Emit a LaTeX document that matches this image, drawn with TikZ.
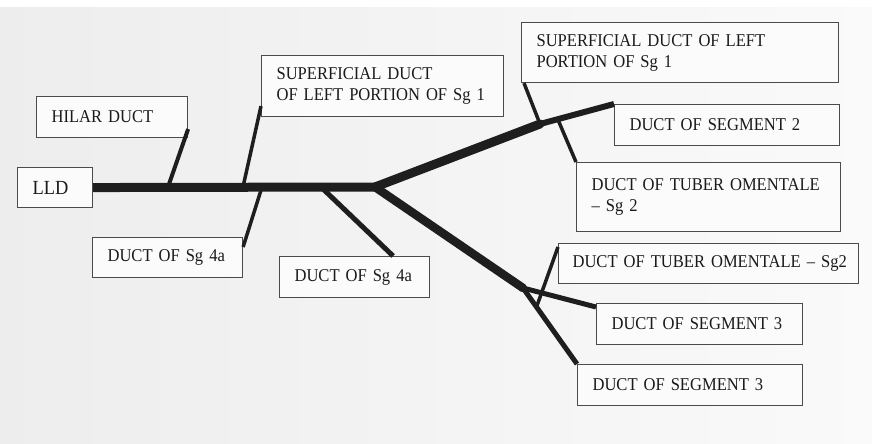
\documentclass[tikz,border=0pt]{standalone}
\usepackage{fontspec}
\setmainfont{Liberation Serif}[FakeStretch=0.92]
\usepackage{tikz}
\usetikzlibrary{calc}
\definecolor{ductink}{HTML}{1E1E1E}
\definecolor{boxtext}{HTML}{1A1A1A}

\begin{document}
\begin{tikzpicture}[x=1pt,y=-1pt,
	box/.style={draw=ductink!80, line width=1.1pt, fill=gray!3, text=boxtext,
		anchor=north west, align=left, inner xsep=15pt, inner ysep=0pt,
		font=\fontsize{18}{21}\selectfont},
	main/.style={draw=ductink, line width=9pt},
	side/.style={draw=ductink, line width=5pt},
	twig/.style={draw=ductink, line width=3.5pt}]
	\useasboundingbox (0,0) rectangle (872,444);
	\shade[left color=gray!14, right color=gray!4] (0,8) rectangle (872,444);
	% boxes
	\node[box, text width=45pt, minimum height=40pt, font=\fontsize{20}{22}\selectfont] (lld) at (17,167) {LLD};
	\node[box, text width=121pt, minimum height=41pt] (hilar) at (36,96) {HILAR DUCT};
	\node[box, text width=212pt, minimum height=61pt] (supmid) at (261,55) {SUPERFICIAL DUCT\\OF LEFT PORTION OF Sg 1};
	\node[box, text width=120pt, minimum height=40pt] (sgL) at (92,237) {DUCT OF Sg 4a};
	\node[box, text width=120pt, minimum height=41pt] (sgM) at (279,256) {DUCT OF Sg 4a};
	\node[box, text width=287pt, minimum height=60pt] (supR) at (521,22) {SUPERFICIAL DUCT OF LEFT\\PORTION OF Sg 1};
	\node[box, text width=195pt, minimum height=41pt] (seg2) at (614,104) {DUCT OF SEGMENT 2};
	\node[box, text width=234pt, minimum height=69pt] (tuberU) at (576,162) {DUCT OF TUBER OMENTALE\\-- Sg 2};
	\node[box, text width=284pt, inner xsep=8pt, minimum height=40pt] (tuberL) at (558,243) {\hspace{6pt}DUCT OF TUBER OMENTALE -- Sg2};
	\node[box, text width=176pt, minimum height=41pt] (seg3U) at (596,303) {DUCT OF SEGMENT 3};
	\node[box, text width=195pt, minimum height=41pt] (seg3L) at (577,364) {DUCT OF SEGMENT 3};
	% branch points
	\coordinate (hub) at (375,187);
	\coordinate (t1) at (168,187);
	\coordinate (t2) at (243,187);
	\coordinate (t3) at (262,187);
	\coordinate (t4) at (321,187);
	\coordinate (u1) at (540,124);
	\coordinate (l1) at (523,288);
	\coordinate (u2) at ($(u1)!0.24!(seg2.north west)$);
	\coordinate (l2) at ($(l1)!0.25!(seg3L.north west)$);
	% ducts
	\draw[main] (lld.east) -- (hub);
	\draw[main, line cap=round] (hub) -- (u1);
	\draw[main, line width=6pt] (u1) -- (seg2.north west);
	\draw[main, line width=8.5pt, line cap=round] (hub) -- (l1);
	\draw[side] (l1) -- ([yshift=-4pt]seg3U.north west);
	\draw[side] (l1) -- (seg3L.north west);
	\draw[twig] (l2) -- ([yshift=-4pt]tuberL.north west);
	\draw[twig] (u2) -- (tuberU.north west);
	\draw[twig] (u1) -- ([xshift=3pt]supR.south west);
	\draw[twig, line width=4pt] (t1) -- ([yshift=9pt]hilar.south east);
	\draw[twig] (t2) -- ([yshift=11pt]supmid.south west);
	\draw[twig] (t3) -- ([yshift=-10pt]sgL.north east);
	\draw[side] (t4) -- ([xshift=-37pt]sgM.north east);
\end{tikzpicture}
\end{document}
